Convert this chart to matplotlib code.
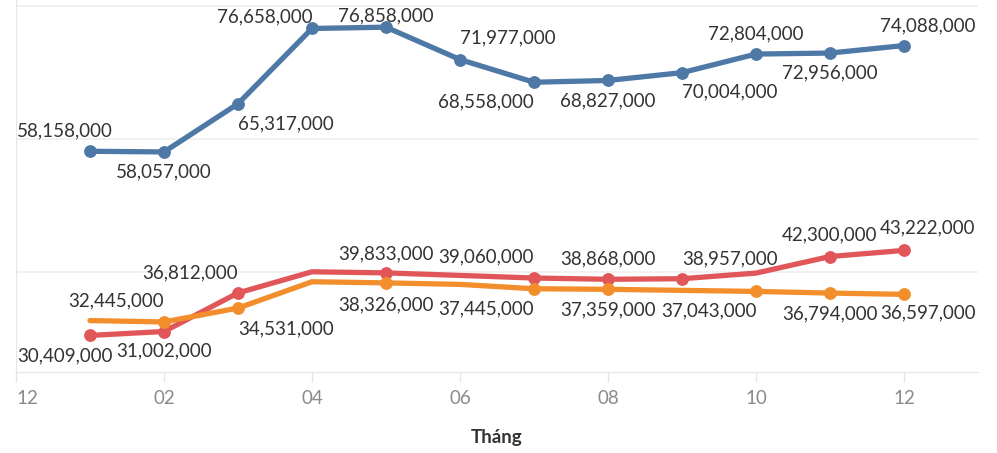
import matplotlib.pyplot as plt

plt.rcParams['font.family'] = ['Lato', 'DejaVu Sans']

# months 1..12, tick labels in "MM" form
months = list(range(1, 13))
tick_pos = [0, 2, 4, 6, 8, 10, 12]
tick_labels = ['12', '02', '04', '06', '08', '10', '12']

blue_vals = [58158000, 58057000, 65317000, 76658000, 76858000, 71977000,
             68558000, 68827000, 70004000, 72804000, 72956000, 74088000]
red_vals = [30409000, 31002000, 36812000, 40000000, 39833000, 39450000,
            39060000, 38868000, 38957000, 39800000, 42300000, 43222000]
orange_vals = [32650000, 32445000, 34531000, 38500000, 38326000, 38100000,
               37445000, 37359000, 37200000, 37043000, 36794000, 36597000]

# which months carry a marker + value label
blue_marked = months
red_marked = [1, 2, 3, 5, 7, 8, 9, 11, 12]
orange_marked = [2, 3, 5, 7, 8, 10, 11, 12]

# label offsets in pixels (dx, dy of baseline) for each marked point
blue_off = [(-25, 15), (0, -25), (48, -26), (-47, 6), (0, 6), (48, 16),
            (-48, -25), (0, -26), (48, -25), (0, 15), (0, -25), (24, 14)]
red_off = [(-25, -26), (0, -25), (-48, 15), (0, 14), (-48, 16), (0, 15),
           (48, 14), (0, 16), (24, 17)]
orange_off = [(-48, 16), (48, -26), (0, -27), (-48, -26), (0, -26),
              (-47, -25), (0, -26), (24, -24)]

fig = plt.figure(figsize=(9.97, 4.53), dpi=100)
ax = fig.add_axes([16 / 997, 1 - 372 / 453, 962 / 997, 372 / 453])

series = [
    (blue_vals, blue_marked, blue_off, '#4e79a7'),
    (red_vals, red_marked, red_off, '#e15759'),
    (orange_vals, orange_marked, orange_off, '#f28e2b'),
]

for vals, marked, offs, col in series:
    ax.plot(months, vals, color=col, lw=3.8, solid_capstyle='round',
            solid_joinstyle='round', zorder=3)
    mv = [vals[m - 1] for m in marked]
    ax.plot(marked, mv, 'o', color=col, ms=8.2, zorder=4)
    for m, v, (dx, dy) in zip(marked, mv, offs):
        ax.annotate(f'{v:,}', (m, v), xytext=(dx, dy),
                    textcoords='offset pixels', ha='center', va='baseline',
                    fontsize=13.5, color='#333333', zorder=5)

ax.set_xlim(0, 13)
ax.set_ylim(24.9e6, 80.95e6)

ax.set_yticks([40e6, 60e6, 80e6])
ax.set_yticklabels([])
ax.tick_params(axis='y', length=0)
ax.grid(axis='y', color='#efefef', lw=1.2)
ax.set_axisbelow(True)

ax.set_xticks(tick_pos)
ax.set_xticklabels(tick_labels, fontsize=13.5, color='#8a8a8a')
ax.get_xticklabels()[0].set_horizontalalignment('left')
ax.tick_params(axis='x', length=7, width=1, color='#e6e6e6', pad=6)

for s in ['top', 'right']:
    ax.spines[s].set_visible(False)
for s in ['left', 'bottom']:
    ax.spines[s].set_color('#e6e6e6')

ax.set_xlabel('Tháng', fontsize=13.5, color='#333333', fontweight='bold',
              labelpad=16)

fig.savefig('out.png', dpi=100)
